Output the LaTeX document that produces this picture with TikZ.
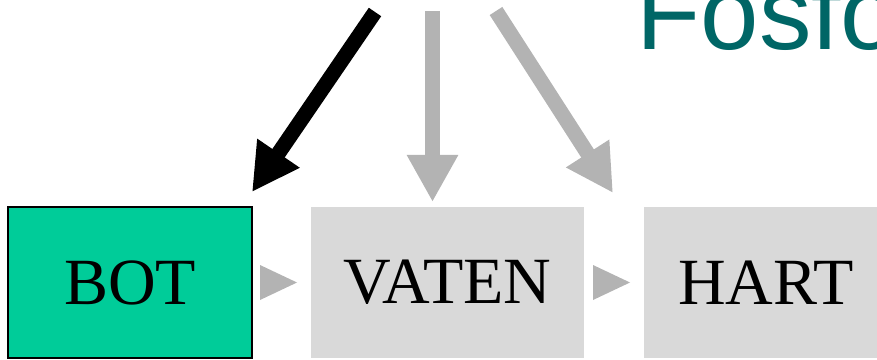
\documentclass[tikz,border=0pt]{standalone}
\usepackage{fontspec}
\setmainfont{Liberation Serif}
\newfontfamily\titlefont{Liberation Sans}
\usetikzlibrary{positioning,arrows.meta}
\definecolor{botgreen}{RGB}{0,204,153}
\definecolor{boxgray}{RGB}{217,217,217}
\definecolor{arrowgray}{RGB}{179,179,179}
\definecolor{titleteal}{RGB}{0,102,102}

\begin{document}
\begin{tikzpicture}[x=1pt,y=1pt,
  stagebox/.style={rectangle,minimum width=273pt,minimum height=151pt,inner sep=0pt,outer sep=0pt,fill=boxgray,font=\fontsize{66}{70}\selectfont},
  bigarrow/.style={line width=15pt,-{Triangle[length=47pt,width=48pt]}},
  smalltri/.style={fill=arrowgray}]
\useasboundingbox (0,0) rectangle (877,359);
\node[stagebox,fill=botgreen,draw=black,line width=1.5pt,minimum width=244pt] (bot) at (130,76.5) {BOT};
\node[stagebox,right=59pt of bot] (vaten) {VATEN};
\node[stagebox,right=60pt of vaten,minimum width=244pt] (hart) {HART};
\fill[smalltri] ([xshift=8pt]bot.east) ++(0,17.5) -- ++(0,-35) -- ++(37,17.5) -- cycle;
\fill[smalltri] ([xshift=9pt]vaten.east) ++(0,17.5) -- ++(0,-35) -- ++(37,17.5) -- cycle;
\node[anchor=base west,inner sep=0pt,text=titleteal,font=\titlefont\fontsize{105}{110}\selectfont] (title) at (636.5,309) {Fosfo};
\coordinate (srcbot) at (375,347);
\coordinate (srcvaten) at (432.5,348);
\coordinate (srchart) at (496,348);
\coordinate (tipbot) at (252,167);
\coordinate (tipvaten) at (432.5,157);
\coordinate (tiphart) at (613,166);
\draw[bigarrow,black] (srcbot) -- (tipbot);
\draw[bigarrow,arrowgray] (srcvaten) -- (tipvaten);
\draw[bigarrow,arrowgray] (srchart) -- (tiphart);
\end{tikzpicture}
\end{document}
